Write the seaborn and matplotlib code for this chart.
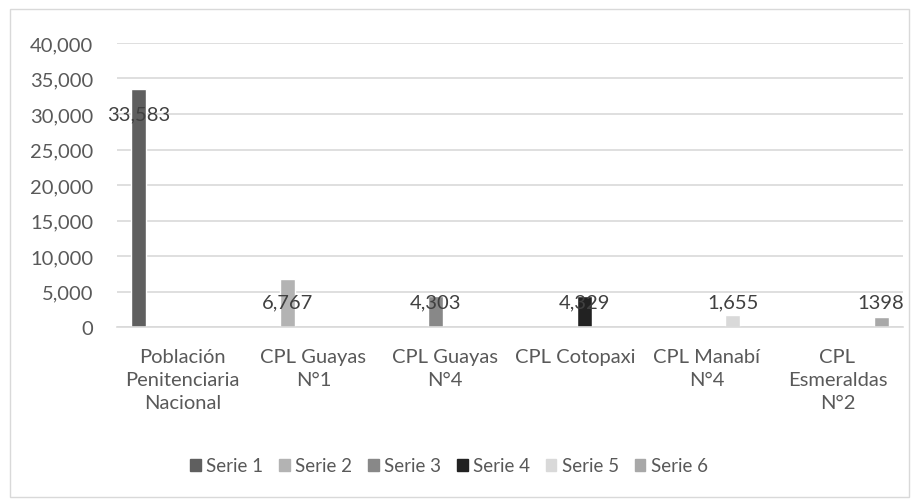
import matplotlib
matplotlib.use("Agg")
import matplotlib.pyplot as plt
import seaborn as sns
import pandas as pd
from matplotlib.ticker import FuncFormatter, FixedLocator

categories = ["Población\nPenitenciaria\nNacional", "CPL Guayas\nN°1", "CPL Guayas\nN°4",
              "CPL Cotopaxi", "CPL Manabí\nN°4", "CPL\nEsmeraldas\nN°2"]
series = ["Serie 1", "Serie 2", "Serie 3", "Serie 4", "Serie 5", "Serie 6"]
values = [33583, 6767, 4303, 4329, 1655, 1398]
value_labels = ["33,583", "6,767", "4,303", "4,329", "1,655", "1398"]
colors = ["#5f5f5f", "#b3b3b3", "#888888", "#222222", "#d9d9d9", "#a8a8a8"]

df = pd.DataFrame({"cat": categories, "serie": series, "val": values})

sns.set_style("white")
plt.rcParams["font.family"] = ["Lato", "DejaVu Sans"]
FS = 14.5

fig = plt.figure(figsize=(9.15, 5.02), dpi=100)
ax = fig.add_axes([117/915, 1-328/502, (903-117)/915, (328-44)/502])

sns.barplot(data=df, x="cat", y="val", hue="serie", order=categories, hue_order=series,
            palette=colors, dodge=True, width=0.8, gap=0.15, ax=ax, legend=True,
            saturation=1)

ax.set_ylim(0, 40000)
ax.set_xlim(-0.5, len(categories) - 0.5)
ax.yaxis.set_major_locator(FixedLocator(range(0, 40001, 5000)))
ax.yaxis.set_major_formatter(FuncFormatter(lambda v, p: f"{int(v):,}"))
ax.grid(axis="y", color="#d9d9d9", linewidth=1.2)
ax.set_axisbelow(True)
for s in ["left", "right", "top"]:
    ax.spines[s].set_visible(False)
ax.spines["bottom"].set_color("#d9d9d9")
ax.spines["bottom"].set_linewidth(1.2)
ax.tick_params(axis="y", length=0, pad=17, labelsize=FS, labelcolor="#595959")
ax.tick_params(axis="x", length=0, pad=15, labelsize=FS, labelcolor="#595959")
for t in ax.get_xticklabels():
    t.set_horizontalalignment("center")
    t.set_multialignment("center")
    t.set_linespacing(1.45)
ax.set_xlabel("")
ax.set_ylabel("")

# data labels
bars = [p for p in ax.patches if p.get_height() > 0]
bars.sort(key=lambda p: p.get_x())
for i, (p, lab) in enumerate(zip(bars, value_labels)):
    cx = p.get_x() + p.get_width() / 2
    ly = 30000 if i == 0 else 3500
    ax.text(cx, ly, lab, ha="center", va="center", fontsize=FS, color="#404040")

ax.get_legend().remove()
handles = [plt.Rectangle((0, 0), 1, 1, color=c) for c in colors]
fig.legend(handles, series, loc="center", bbox_to_anchor=(0.491, 1-467/502), ncol=6,
           frameon=False, fontsize=13.5, handlelength=0.55, handleheight=0.55,
           handletextpad=0.3, columnspacing=0.85, labelcolor="#595959")

fig.patches.append(plt.Rectangle((10/915, 4/502), 899/915, 488/502, transform=fig.transFigure,
                                 fill=False, edgecolor="#d9d9d9", linewidth=1))

fig.savefig("out.png", dpi=100)
